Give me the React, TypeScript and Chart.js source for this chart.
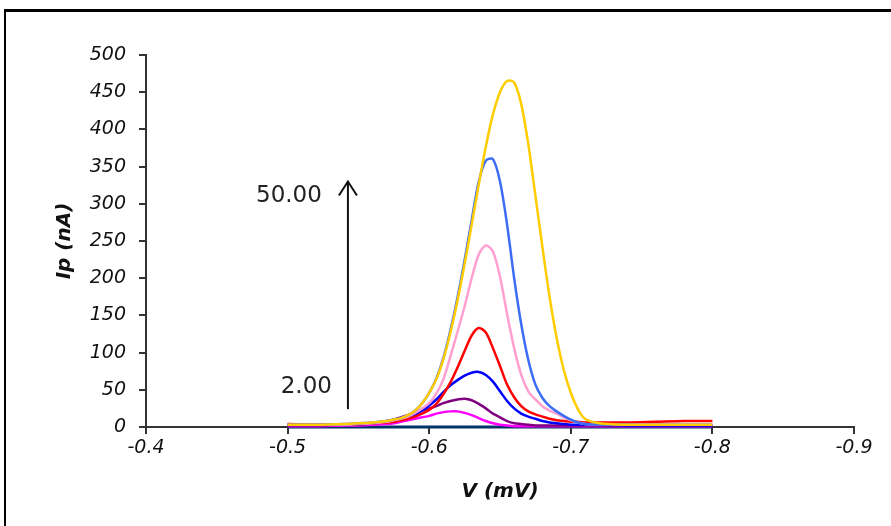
import { useEffect, useRef } from "react";
import { Chart, registerables } from "chart.js";

Chart.register(...registerables);

// Potential (V) shared by all scans
const voltage = [
  -0.5, -0.52, -0.54, -0.55, -0.56, -0.57, -0.575, -0.58, -0.585, -0.59, -0.595, -0.6, -0.605,
  -0.61, -0.615, -0.62, -0.625, -0.63, -0.635, -0.64, -0.645, -0.65, -0.655, -0.66, -0.665,
  -0.67, -0.675, -0.68, -0.685, -0.69, -0.695, -0.7, -0.705, -0.71, -0.72, -0.74, -0.76, -0.78, -0.8,
];

// Peak currents Ip (nA), one array per concentration
const ipGold = [3, 3, 4, 5, 6, 8, 10, 12, 16, 22, 32, 46, 64, 91, 127, 170, 219, 272, 326, 377, 420, 450, 465, 463, 434, 380, 311, 241, 175, 120, 77, 46, 24, 11, 5, 3, 3, 3, 3];
const ipLightBlue = [3, 3, 4, 5, 6, 8, 10, 12, 16, 22, 32, 46, 65, 93, 130, 174, 224, 278, 330, 358, 360, 330, 272, 200, 138, 90, 57, 39, 28, 21, 15, 10, 6, 4, 3, 3, 3, 3, 3];
const ipPink = [3, 3, 3, 4, 5, 7, 9, 11, 14, 19, 25, 32, 45, 64, 95, 128, 162, 200, 232, 244, 236, 202, 152, 106, 70, 48, 37, 28, 22, 18, 13, 9, 6, 4, 3, 3, 3, 3, 3];
const ipRed = [4, 3, 3, 4, 5, 6, 7, 9, 11, 14, 18, 23, 31, 44, 60, 80, 102, 123, 133, 127, 106, 82, 57, 40, 28, 21, 17, 14, 11, 9, 8, 7, 7, 6, 6, 6, 7, 8, 8];
const ipBlue = [3, 3, 3, 4, 5, 7, 8, 10, 13, 17, 22, 29, 37, 47, 56, 63, 69, 73, 74, 70, 61, 48, 35, 25, 18, 14, 11, 8, 6, 5, 4, 3, 3, 3, 3, 2, 2, 2, 2];
const ipPurple = [2, 2, 3, 3, 5, 8, 10, 13, 16, 19, 22, 25, 28, 32, 35, 37, 38, 36, 31, 25, 18, 13, 8, 5, 4, 3, 2, 2, 2, 2, 2, 2, 2, 2, 2, 2, 2, 2, 2];
const ipMagenta = [1, 1, 2, 2, 3, 4, 5, 7, 9, 11, 13, 15, 18, 20, 21, 21, 19, 16, 12, 8, 5, 3, 2, 1, 1, 1, 1, 1, 1, 1, 1, 1, 1, 1, 1, 1, 1, 1, 1];
const ipBlank = [0, 0, 0, 0, 0, 0, 0, 0, 0, 0, 0, 0, 0, 0, 0, 0, 0, 0, 0, 0, 0, 0, 0, 0, 0, 0, 0, 0, 0, 0, 0, 0, 0, 0, 0, 0, 0, 0, 0];

const seriesList = [ipGold, ipLightBlue, ipPink, ipRed, ipBlue, ipPurple, ipMagenta, ipBlank];
const seriesColors = ["#FFCC00", "#3D6DF5", "#FFA0D0", "#FF0000", "#0000FF", "#800080", "#FF00FF", "#003366"];

// Axis settings
const xMin = -0.9;
const xMax = -0.4;
const xStep = 0.1;
const yMin = 0;
const yMax = 500;
const yStep = 50;
const xTitle = "V (mV)";
const yTitle = "Ip (nA)";

// Arrow annotation (data units)
const arrowV = -0.5426;
const arrowLow = 24;
const arrowHigh = 330;
const topLabel = "50.00";
const topLabelV = -0.5242;
const topLabelIp = 311;
const bottomLabel = "2.00";
const bottomLabelV = -0.5313;
const bottomLabelIp = 54;

const annotationPlugin = {
  id: "annotations",
  afterDatasetsDraw(chart: any) {
    const { ctx, chartArea } = chart;
    const xs = chart.scales.x;
    const ys = chart.scales.y;
    ctx.save();
    // axis titles
    ctx.fillStyle = "#111";
    ctx.font = "italic bold 20px 'DejaVu Sans'";
    ctx.textAlign = "center";
    ctx.textBaseline = "middle";
    ctx.fillText(xTitle, (chartArea.left + chartArea.right) / 2, chartArea.bottom + 65);
    ctx.save();
    ctx.translate(chartArea.left - 81, (chartArea.top + chartArea.bottom) / 2);
    ctx.rotate(-Math.PI / 2);
    ctx.fillText(yTitle, 0, 0);
    ctx.restore();

    // arrow
    const ax = xs.getPixelForValue(arrowV);
    const ay0 = ys.getPixelForValue(arrowLow);
    const ay1 = ys.getPixelForValue(arrowHigh);
    ctx.strokeStyle = "#111";
    ctx.lineWidth = 2;
    ctx.beginPath();
    ctx.moveTo(ax, ay0);
    ctx.lineTo(ax, ay1);
    ctx.stroke();
    ctx.beginPath();
    ctx.moveTo(ax - 9, ay1 + 14);
    ctx.lineTo(ax, ay1);
    ctx.lineTo(ax + 9, ay1 + 14);
    ctx.stroke();

    // labels
    ctx.fillStyle = "#222";
    ctx.font = "23px 'DejaVu Sans'";
    ctx.textAlign = "right";
    ctx.textBaseline = "middle";
    ctx.fillText(topLabel, xs.getPixelForValue(topLabelV), ys.getPixelForValue(topLabelIp));
    ctx.fillText(bottomLabel, xs.getPixelForValue(bottomLabelV), ys.getPixelForValue(bottomLabelIp));
    ctx.restore();
  },
};

export default function App() {
  const canvasRef = useRef<HTMLCanvasElement | null>(null);

  useEffect(() => {
    if (!canvasRef.current) return;
    const datasets = seriesList.map((vals, i) => ({
      label: `scan ${i + 1}`,
      data: voltage.map((v, k) => ({ x: v, y: vals[k] })),
      borderColor: seriesColors[i],
      backgroundColor: seriesColors[i],
      borderWidth: i === seriesList.length - 1 ? 3 : 2.5,
      pointRadius: 0,
      tension: 0.3,
      fill: false,
      clip: false as any,
    }));
    const tickFont = { family: "'DejaVu Sans'", size: 19, style: "italic" as const };
    const chart = new Chart(canvasRef.current, {
      type: "line",
      data: { datasets },
      plugins: [annotationPlugin],
      options: {
        animation: false,
        responsive: false,
        layout: { padding: { top: 55, right: 37, left: 0, bottom: 0 } },
        plugins: { legend: { display: false }, tooltip: { enabled: false } },
        scales: {
          x: {
            type: "linear",
            min: xMin,
            max: xMax,
            reverse: true,
            afterFit: (s: any) => {
              s.height = 99;
            },
            border: { color: "#333", width: 2 },
            grid: { drawOnChartArea: false, drawTicks: true, tickLength: 7, color: "#333", lineWidth: 2 },
            ticks: {
              stepSize: xStep,
              padding: 3,
              color: "#111",
              font: tickFont,
              maxRotation: 0,
              callback: (v: any) => Number(v).toFixed(1),
            },
          },
          y: {
            type: "linear",
            min: yMin,
            max: yMax,
            afterFit: (s: any) => {
              s.width = 146;
            },
            border: { color: "#333", width: 2 },
            grid: { drawOnChartArea: false, drawTicks: true, tickLength: 7, color: "#333", lineWidth: 2 },
            ticks: {
              stepSize: yStep,
              padding: 13,
              color: "#111",
              font: tickFont,
            },
          },
        },
      },
    });
    return () => chart.destroy();
  }, []);

  return (
    <div style={{ position: "fixed", left: 0, top: 0, width: 891, height: 526, background: "#fff", overflow: "hidden" }}>
      <canvas ref={canvasRef} width={891} height={526} style={{ position: "absolute", left: 0, top: 0 }} />
      <div
        style={{
          position: "absolute",
          left: 4,
          top: 9,
          width: 900,
          height: 600,
          borderTop: "3px solid #000",
          borderLeft: "2px solid #000",
          pointerEvents: "none",
        }}
      />
    </div>
  );
}
